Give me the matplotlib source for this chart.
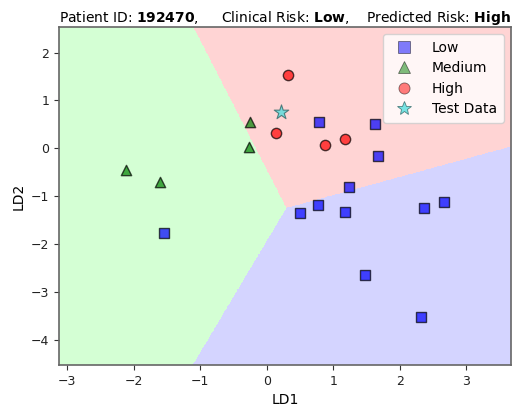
import numpy as np
import matplotlib
matplotlib.use("Agg")
import matplotlib.pyplot as plt
from matplotlib.colors import ListedColormap
from matplotlib.lines import Line2D

# ---- data ----
low_x = [0.78, 1.62, 1.67, 1.24, 0.77, 0.50, 1.18, 2.36, 2.67, -1.55, 1.47, 2.32]
low_y = [0.55, 0.51, -0.15, -0.81, -1.18, -1.34, -1.33, -1.24, -1.11, -1.76, -2.65, -3.52]
med_x = [-0.25, -0.27, -2.12, -1.61]
med_y = [0.54, 0.02, -0.46, -0.71]
high_x = [0.32, 0.14, 0.88, 1.18]
high_y = [1.53, 0.32, 0.08, 0.20]
test_x = [0.21]
test_y = [0.75]

# decision-region centroids (nearest-centroid regions)
region_labels = ["High", "Medium", "Low"]
region_cx = [0.73, -0.62, 1.22]
region_cy = [-0.34, -0.84, -1.63]

patient_id = "192470"
clinical_risk = "Low"
predicted_risk = "High"

# ---- figure ----
fig = plt.figure(figsize=(5.15, 4.11), dpi=100)
ax = fig.add_axes([0.1146, 0.112, 0.8776, 0.822])

all_x = np.array(low_x + med_x + high_x)
all_y = np.array(low_y + med_y + high_y)
xmin, xmax = all_x.min() - 1, all_x.max() + 1
ymin, ymax = all_y.min() - 1, all_y.max() + 1

xx, yy = np.meshgrid(np.linspace(xmin, xmax, 800), np.linspace(ymin, ymax, 800))
cx = np.array(region_cx)[:, None, None]
cy = np.array(region_cy)[:, None, None]
d = (xx[None] - cx) ** 2 + (yy[None] - cy) ** 2
Z = np.argmin(d, axis=0)
cmap = ListedColormap(["#FFAAAA", "#AAFFAA", "#AAAAFF"])
ax.pcolormesh(xx, yy, Z, cmap=cmap, alpha=0.5, shading="auto", vmin=-0.5, vmax=2.5)

ax.scatter(low_x, low_y, marker="s", s=60, c="blue", alpha=0.7, edgecolors="black", linewidths=1, zorder=3)
ax.scatter(med_x, med_y, marker="^", s=55, c="green", alpha=0.7, edgecolors="black", linewidths=1, zorder=3)
ax.scatter(high_x, high_y, marker="o", s=55, c="red", alpha=0.7, edgecolors="black", linewidths=1, zorder=3)
ax.scatter(test_x, test_y, marker="*", s=120, c="#55dddd", alpha=0.8, edgecolors="#336666", linewidths=0.8, zorder=3)

ax.set_xlim(xmin, xmax)
ax.set_ylim(ymin, ymax)
ax.set_xlabel("LD1", fontsize=10)
ax.set_ylabel("LD2", fontsize=10)
ax.tick_params(labelsize=9, color="#333333", labelcolor="#222222")
for s in ax.spines.values():
    s.set_color("#666666")
    s.set_linewidth(1.2)

handles = [
    Line2D([], [], marker="s", ls="", color="blue", alpha=0.5, markersize=8, markeredgecolor="black", markeredgewidth=0.6),
    Line2D([], [], marker="^", ls="", color="green", alpha=0.5, markersize=8, markeredgecolor="black", markeredgewidth=0.6),
    Line2D([], [], marker="o", ls="", color="red", alpha=0.5, markersize=8, markeredgecolor="black", markeredgewidth=0.6),
    Line2D([], [], marker="*", ls="", color="#55dddd", alpha=0.8, markersize=10, markeredgecolor="#336666", markeredgewidth=0.6),
]
ax.legend(handles, ["Low", "Medium", "High", "Test Data"], loc="upper right", fontsize=10,
          handletextpad=1.0, labelspacing=0.45, borderpad=0.5, framealpha=0.8)

ax.set_title(f"Patient ID: $\\bf{{{patient_id}}}$,", loc="left", fontsize=10, pad=4)
ax.set_title(f"Clinical Risk: $\\bf{{{clinical_risk}}}$,", loc="center", fontsize=10, pad=4)
ax.set_title(f"Predicted Risk: $\\bf{{{predicted_risk}}}$", loc="right", fontsize=10, pad=4)

fig.savefig("out.png", dpi=100)
